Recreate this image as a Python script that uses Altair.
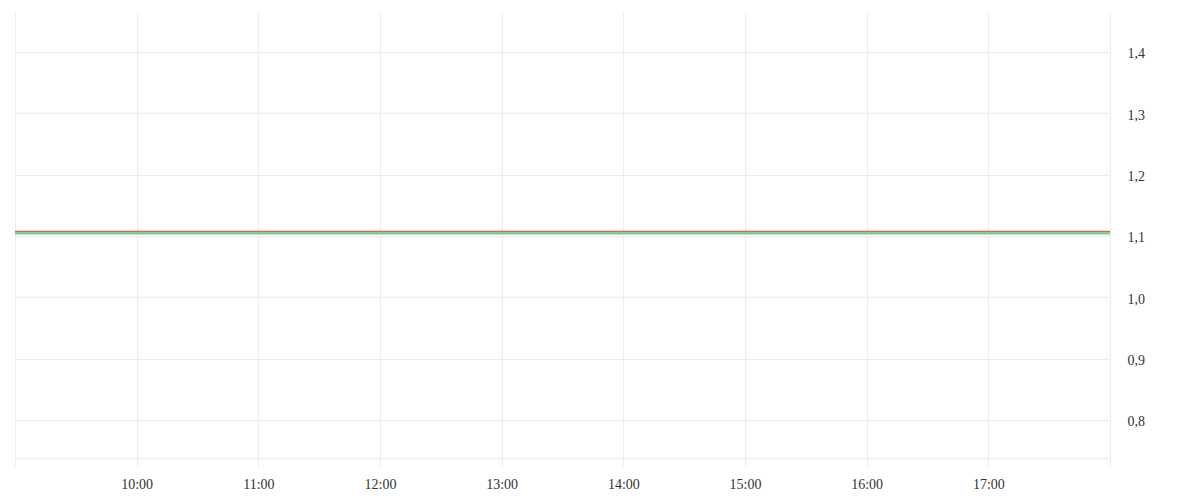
import altair as alt
import pandas as pd

times = ["2024-01-02T09:00:00", "2024-01-02T10:00:00", "2024-01-02T11:00:00",
         "2024-01-02T12:00:00", "2024-01-02T13:00:00", "2024-01-02T14:00:00",
         "2024-01-02T15:00:00", "2024-01-02T16:00:00", "2024-01-02T17:00:00",
         "2024-01-02T18:00:00"]
red_values = [1.1073] * 10
green_values = [1.1040] * 10
series_names = ["green", "red"]
series_colors = ["#62d78f", "#e0615c"]
series_widths = [2.2, 1.4]
y_ticks = [0.8, 0.9, 1.0, 1.1, 1.2, 1.3, 1.4]

df = pd.concat([
    pd.DataFrame({"t": pd.to_datetime(times), "v": green_values, "s": "green", "o": 0}),
    pd.DataFrame({"t": pd.to_datetime(times), "v": red_values, "s": "red", "o": 1}),
])

grid = "#ececec"
font = "Liberation Serif"

x = alt.X(
    "t:T",
    scale=alt.Scale(type="utc", domain=[times[0], times[-1]], nice=False),
    axis=alt.Axis(
        title=None,
        values=times,
        labelExpr="(utchours(datum.value) == 9 || utchours(datum.value) == 18) ? '' : utcFormat(datum.value, '%H:%M')",
        grid=True, gridColor=grid, tickColor=grid, tickSize=8,
        domainColor=grid, labelPadding=11, labelFont=font, labelFontSize=14,
        labelColor="#333333", labelFlush=False, labelOverlap=False,
    ),
)
y = alt.Y(
    "v:Q",
    scale=alt.Scale(domain=[0.738, 1.465], nice=False, zero=False),
    axis=alt.Axis(
        title=None, orient="right", values=y_ticks,
        labelExpr="replace(format(datum.value, '.1f'), '.', ',')",
        grid=True, gridColor=grid, ticks=False, domain=False,
        labelPadding=17, labelOffset=2, labelFont=font, labelFontSize=14,
        labelColor="#333333",
    ),
)

lines = alt.Chart(df).mark_line().encode(
    x=x, y=y,
    color=alt.Color("s:N", scale=alt.Scale(domain=series_names, range=series_colors), legend=None),
    strokeWidth=alt.StrokeWidth("s:N", scale=alt.Scale(domain=series_names, range=series_widths), legend=None),
    order="o:Q",
)

chart = lines.properties(
    width=1095, height=446,
    autosize=alt.AutoSizeParams(type="none"),
    padding={"left": 7, "top": 4, "right": 80, "bottom": 36},
).configure_view(stroke=None)

chart.save("out.html", embed_options={"renderer": "svg", "actions": False})
